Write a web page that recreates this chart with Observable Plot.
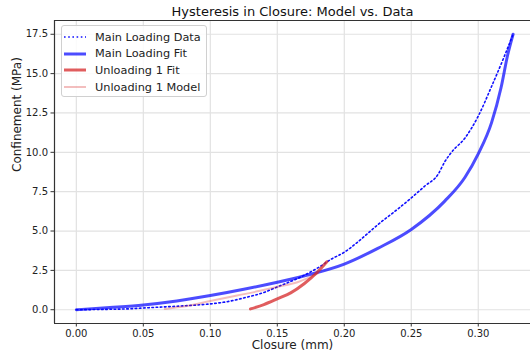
<!DOCTYPE html>
<html>
<head>
<meta charset="utf-8">
<script src="https://cdn.jsdelivr.net/npm/d3@7"></script>
<script src="https://cdn.jsdelivr.net/npm/@observablehq/plot@0.6"></script>
<style>
  html, body { margin: 0; padding: 0; background: #fff; overflow: hidden; }
  #wrap { position: relative; width: 530px; height: 352px; font-family: "DejaVu Sans", sans-serif; }
  #legend { position: absolute; left: 61px; top: 25px; width: 146px; height: 72px; box-sizing: border-box;
    border: 1px solid #d0d0d0; border-radius: 3px; background: rgba(255,255,255,0.85); }
  .row { position: absolute; left: 0; height: 14px; display: flex; align-items: center; font-size: 11.3px; color: #222; white-space: nowrap; }
  .row svg { margin-left: 1px; margin-right: 8px; }
</style>
</head>
<body>
<div id="wrap"><div id="legend"></div></div>
<script>
const title = "Hysteresis in Closure: Model vs. Data";
const xLabel = "Closure (mm)";
const yLabel = "Confinement (MPa)";
const xTicks = [0, 0.05, 0.10, 0.15, 0.20, 0.25, 0.30];
const yTicks = [0, 2.5, 5, 7.5, 10, 12.5, 15, 17.5];
const xDomain = [-0.0163, 0.339];
const yDomain = [-0.875, 18.375];

// Main loading data (dotted)
const mainDataX = [0, 0.02, 0.04, 0.05, 0.07, 0.09, 0.10, 0.115, 0.125, 0.14, 0.15, 0.167, 0.182, 0.19, 0.20, 0.21, 0.225, 0.24, 0.25, 0.26, 0.27, 0.275, 0.28, 0.29, 0.30, 0.31, 0.319, 0.326];
const mainDataY = [0, 0.02, 0.06, 0.11, 0.2, 0.3, 0.37, 0.55, 0.75, 1.1, 1.45, 2.06, 2.75, 3.2, 3.65, 4.3, 5.4, 6.4, 7.1, 7.85, 8.6, 9.4, 10.0, 10.9, 12.3, 14.2, 16.0, 17.5];

// Main loading fit
const mainFitX = [0, 0.025, 0.05, 0.075, 0.1, 0.125, 0.15, 0.175, 0.2, 0.225, 0.25, 0.275, 0.29, 0.3, 0.31, 0.317, 0.322, 0.326];
const mainFitY = [0, 0.14, 0.3, 0.55, 0.9, 1.3, 1.75, 2.25, 2.9, 3.9, 5.1, 6.9, 8.4, 9.9, 11.9, 14.1, 16.2, 17.5];

// Unloading 1 fit
const unlFitX = [0.13, 0.14, 0.15, 0.16, 0.17, 0.18, 0.187];
const unlFitY = [0.05, 0.33, 0.69, 1.07, 1.65, 2.4, 3.05];

// Unloading 1 model
const unlModX = [0.066, 0.08, 0.1, 0.12, 0.137, 0.15, 0.165, 0.18];
const unlModY = [0.05, 0.2, 0.55, 0.9, 1.2, 1.45, 1.75, 2.3];

const zip = (xs, ys) => xs.map((x, i) => ({x, y: ys[i]}));
const mainData = zip(mainDataX, mainDataY);
const mainFit = zip(mainFitX, mainFitY);
const unlFit = zip(unlFitX, unlFitY);
const unlMod = zip(unlModX, unlModY);

const series = [
  {name: "Main Loading Data", stroke: "#1010ff", opacity: 1, width: 1.6, dash: "1.6,2.6"},
  {name: "Main Loading Fit", stroke: "#0000ff", opacity: 0.7, width: 3, dash: null},
  {name: "Unloading 1 Fit", stroke: "#d62728", opacity: 0.75, width: 3, dash: null},
  {name: "Unloading 1 Model", stroke: "#d62728", opacity: 0.3, width: 2, dash: null}
];

const chart = Plot.plot({
  width: 530,
  height: 352,
  marginLeft: 54,
  marginRight: 0,
  marginTop: 20,
  marginBottom: 29,
  style: {fontFamily: "DejaVu Sans, sans-serif", fontSize: "10px", color: "#222", background: "white"},
  x: {domain: xDomain, label: null},
  y: {domain: yDomain, label: null},
  marks: [
    Plot.gridX(xTicks, {stroke: "#e2e2e2", strokeOpacity: 1, strokeWidth: 1.2}),
    Plot.gridY(yTicks, {stroke: "#e2e2e2", strokeOpacity: 1, strokeWidth: 1.2}),
    Plot.axisX(xTicks, {tickSize: 3.5, tickPadding: 3, tickFormat: d3.format(".2f"), label: null, stroke: "#333", fontSize: 10}),
    Plot.axisY(yTicks, {tickSize: 3.5, tickPadding: 3, tickFormat: d3.format(".1f"), label: null, stroke: "#333", fontSize: 10}),
    Plot.line(mainData, {x: "x", y: "y", stroke: series[0].stroke, strokeOpacity: series[0].opacity, strokeWidth: series[0].width, strokeDasharray: series[0].dash, curve: "monotone-x"}),
    Plot.line(mainFit, {x: "x", y: "y", stroke: series[1].stroke, strokeOpacity: series[1].opacity, strokeWidth: series[1].width, curve: "monotone-x"}),
    Plot.line(unlFit, {x: "x", y: "y", stroke: series[2].stroke, strokeOpacity: series[2].opacity, strokeWidth: series[2].width, curve: "monotone-x"}),
    Plot.line(unlMod, {x: "x", y: "y", stroke: series[3].stroke, strokeOpacity: series[3].opacity, strokeWidth: series[3].width, curve: "monotone-x"}),
    Plot.ruleX([xDomain[0]], {stroke: "#333", strokeWidth: 1.2}),
    Plot.ruleY([yDomain[0], yDomain[1]], {stroke: "#333", strokeWidth: 1.2}),
    Plot.text([title], {frameAnchor: "top", lineAnchor: "middle", dy: -9, fontSize: 13, fill: "#111"}),
    Plot.text([xLabel], {frameAnchor: "bottom", lineAnchor: "middle", dy: 22, fontSize: 12, fill: "#222"}),
    Plot.text([yLabel], {frameAnchor: "left", dx: -37, rotate: -90, fontSize: 12, fill: "#222"})
  ]
});
document.getElementById("wrap").prepend(chart);

const legend = document.getElementById("legend");
series.forEach((s, i) => {
  const row = document.createElement("div");
  row.className = "row";
  row.style.top = (4 + i * 16.7) + "px";
  const dash = s.dash ? `stroke-dasharray="${s.dash}"` : "";
  row.innerHTML = `<svg width="24" height="14"><line x1="1" x2="23" y1="7" y2="7" stroke="${s.stroke}" stroke-opacity="${s.opacity}" stroke-width="${s.width}" ${dash}/></svg><span>${s.name}</span>`;
  legend.appendChild(row);
});
</script>
</body>
</html>
